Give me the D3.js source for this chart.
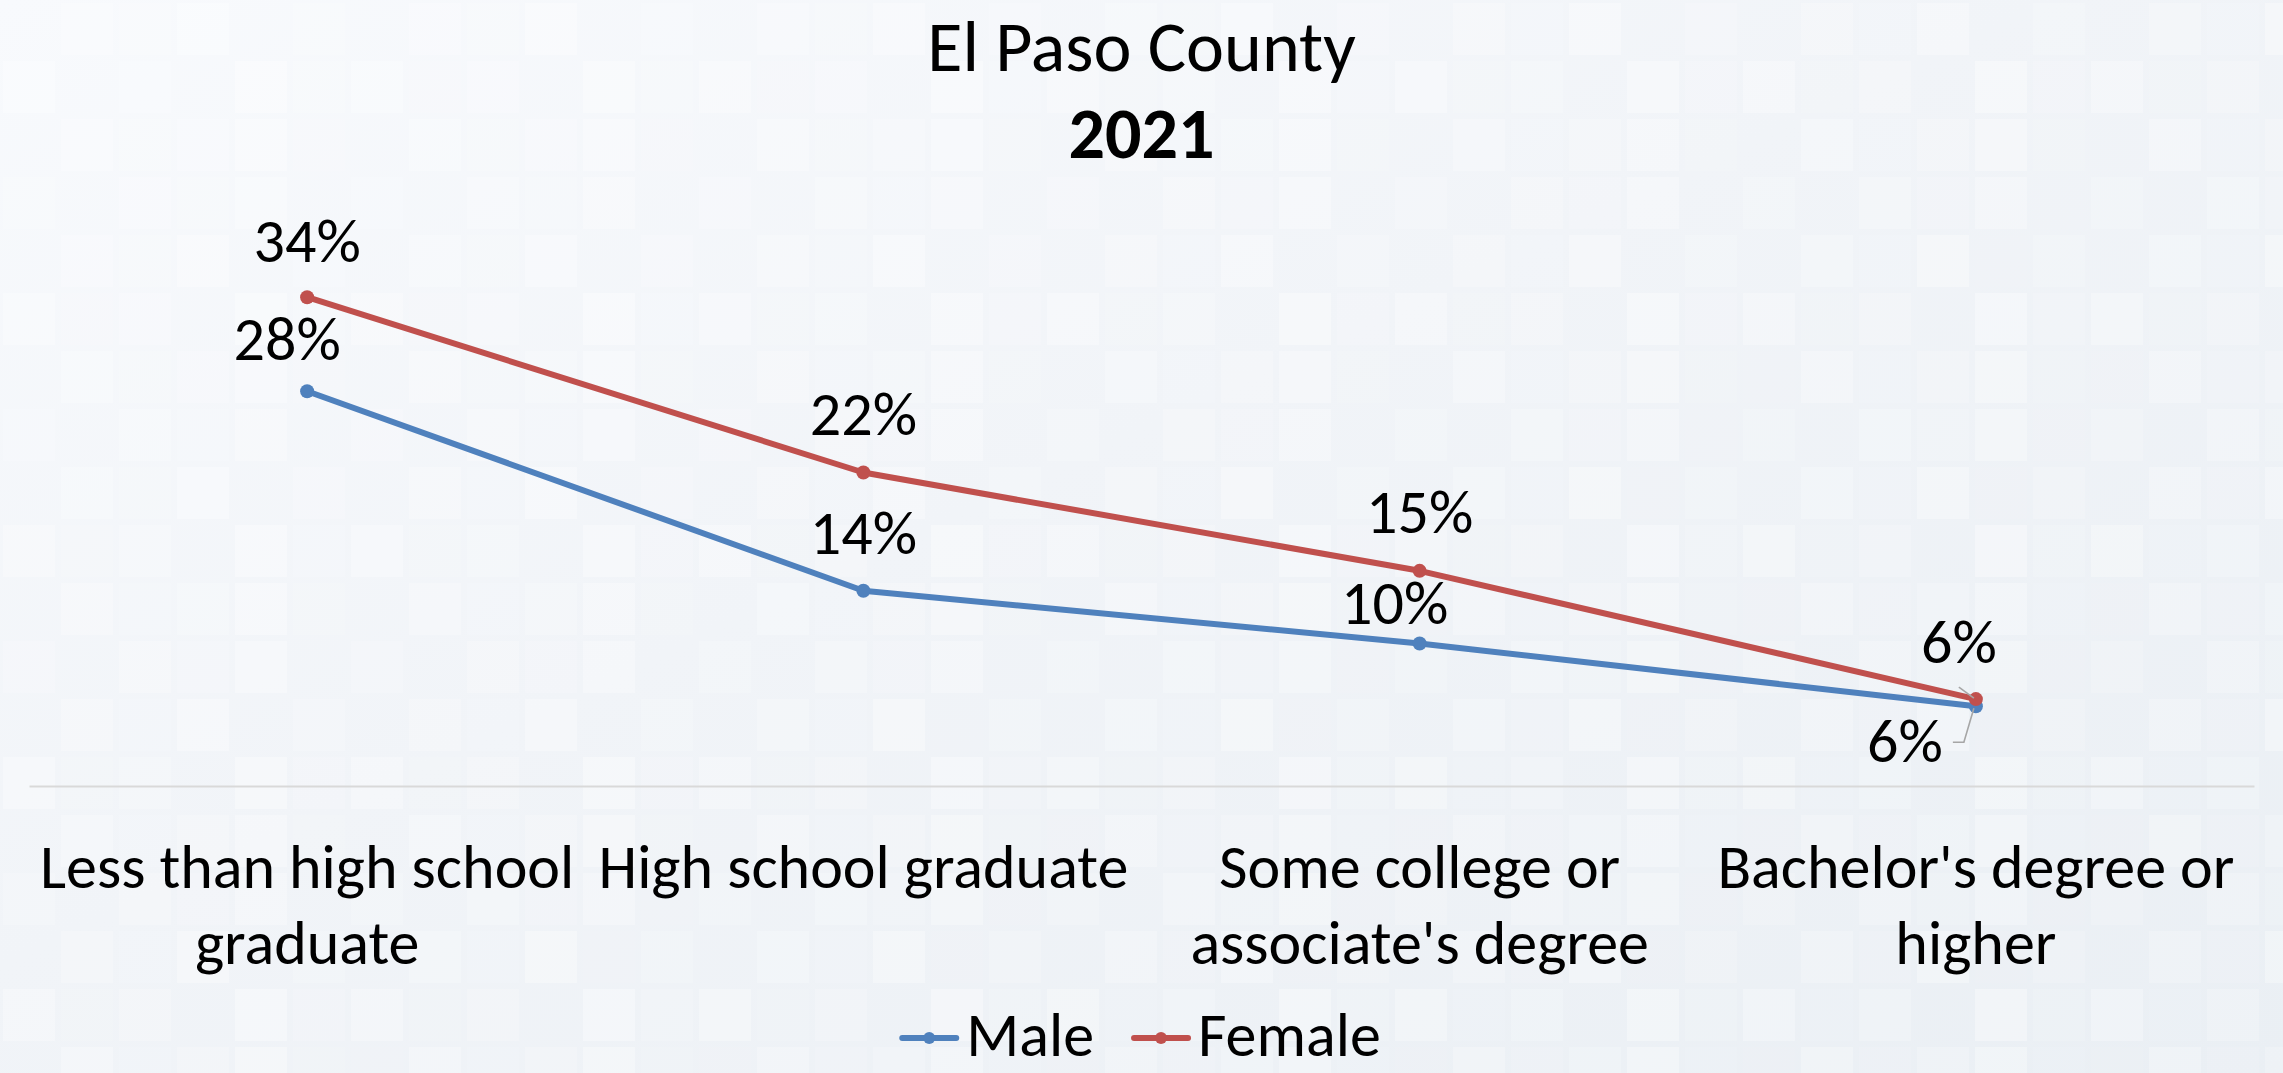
<!DOCTYPE html>
<html><head><meta charset="utf-8">
<script src="https://cdn.jsdelivr.net/npm/d3@7"></script>
<style>html,body{margin:0;padding:0;overflow:hidden;background:#f1f4f8}</style>
</head><body>
<script>
// ---- data ----
const categories = ["Less than high school graduate", "High school graduate", "Some college or associate's degree", "Bachelor's degree or higher"];
const tickLabels = [["Less than high school", "graduate"], ["High school graduate"], ["Some college or", "associate's degree"], ["Bachelor's degree or", "higher"]];
const seriesNames = ["Male", "Female"];
const maleValues = [27.7, 13.7, 10.0, 5.6];
const femaleValues = [34.3, 22.0, 15.1, 6.1];
const titleText = "El Paso County";
const subtitleText = "2021";

// ---- layout (not data) ----
const W = 2283, H = 1073;
const margin = {left: 29, right: 29, top: 216, bottom: 287};
const seriesColors = ["#4F81BD", "#C0504D"];
const maleLabelOffsets = [[-20, -31], [0, -37], [-25, -20], [-71, 56]];
const femaleLabelOffsets = [[0, -35], [0, -38], [0, -38], [-17, -36]];
const FONT = "Carlito, Calibri, Lato, sans-serif";
const fs = 62, titleFs = 72;

const svg = d3.select("body").append("svg").attr("width", W).attr("height", H);

// background
const defs = svg.append("defs");
const grad = defs.append("linearGradient").attr("id", "bg").attr("x1", 0).attr("y1", 0).attr("x2", 1).attr("y2", 1);
grad.append("stop").attr("offset", "0%").attr("stop-color", "#f8fafd");
grad.append("stop").attr("offset", "45%").attr("stop-color", "#f1f4f8");
grad.append("stop").attr("offset", "100%").attr("stop-color", "#eaeff4");
svg.append("rect").attr("width", W).attr("height", H).attr("fill", "url(#bg)");
const tileOps = [0.0, 0.35, 0.15, 0.5, 0.05, 0.25, 0.45, 0.1, 0.3, 0.0, 0.55, 0.2, 0.05, 0.4, 0.15, 0.3, 0.5, 0.1, 0.25, 0.0, 0.35, 0.2, 0.45, 0.05];
const pat = defs.append("pattern").attr("id", "tiles").attr("patternUnits", "userSpaceOnUse")
  .attr("width", 58 * 6).attr("height", 58 * 4);
tileOps.forEach((o, i) => {
  pat.append("rect").attr("x", (i % 6) * 58 + 3).attr("y", Math.floor(i / 6) * 58 + 3)
    .attr("width", 52).attr("height", 52).attr("fill", "#ffffff").attr("fill-opacity", o * 0.6);
});
svg.append("rect").attr("width", W).attr("height", H).attr("fill", "url(#tiles)");

// scales
const x = d3.scaleBand().domain(categories).range([margin.left, W - margin.right]).padding(0);
const y = d3.scaleLinear().domain([0, 40]).range([H - margin.bottom, margin.top]);
const cx = d => x(d) + x.bandwidth() / 2;
const midX = (margin.left + W - margin.right) / 2;

// title
svg.append("text").attr("x", midX).attr("y", 71)
  .attr("text-anchor", "middle").attr("font-family", FONT).attr("font-size", titleFs).attr("fill", "#000")
  .text(titleText);
svg.append("text").attr("x", midX).attr("y", 158)
  .attr("text-anchor", "middle").attr("font-family", FONT).attr("font-size", titleFs).attr("font-weight", "bold").attr("fill", "#000")
  .text(subtitleText);

// axis
const xAxis = svg.append("g").attr("transform", `translate(0,${y(0)})`)
  .call(d3.axisBottom(x).tickSize(0).tickFormat(""));
xAxis.select(".domain").attr("stroke", "#d9d9d9").attr("stroke-width", 2);
xAxis.selectAll(".tick").each(function(d, i) {
  const t = d3.select(this).append("text").attr("fill", "#000").attr("font-family", FONT).attr("font-size", fs)
    .attr("text-anchor", "middle").attr("y", 102);
  tickLabels[i].forEach((line, j) => {
    t.append("tspan").attr("x", 0).attr("dy", j === 0 ? 0 : 76).text(line);
  });
});

// series
const series = [
  {name: seriesNames[0], values: maleValues, color: seriesColors[0], offsets: maleLabelOffsets},
  {name: seriesNames[1], values: femaleValues, color: seriesColors[1], offsets: femaleLabelOffsets}
];
const line = d3.line().x((v, i) => cx(categories[i])).y(v => y(v));
const fmt = v => d3.format(".0f")(v) + "%";

series.forEach(s => {
  svg.append("path").datum(s.values).attr("d", line).attr("fill", "none")
    .attr("stroke", s.color).attr("stroke-width", 6).attr("stroke-linejoin", "round").attr("stroke-linecap", "round");
  svg.selectAll(null).data(s.values).enter().append("circle")
    .attr("cx", (v, i) => cx(categories[i])).attr("cy", v => y(v)).attr("r", 7).attr("fill", s.color);
});

// leader lines for the overlapping last labels
const lastI = categories.length - 1;
const px = cx(categories[lastI]);
const fy = y(femaleValues[lastI]), my = y(maleValues[lastI]);
const leader = d3.line();
svg.append("path").attr("d", leader([[px - 17, fy - 12], [px - 2, fy - 1]]))
  .attr("stroke", "#a6a6a6").attr("stroke-width", 1.6).attr("fill", "none");
svg.append("path").attr("d", leader([[px - 23, my + 36], [px - 12, my + 36], [px - 2, my + 2]]))
  .attr("stroke", "#a6a6a6").attr("stroke-width", 1.6).attr("fill", "none");

// data labels
series.forEach(s => {
  svg.selectAll(null).data(s.values).enter().append("text")
    .attr("x", (v, i) => cx(categories[i]) + s.offsets[i][0])
    .attr("y", (v, i) => y(v) + s.offsets[i][1])
    .attr("text-anchor", "middle").attr("font-family", FONT).attr("font-size", fs).attr("fill", "#000")
    .text(fmt);
});

// legend
const lg = svg.append("g");
let lx = 0;
series.forEach((s, i) => {
  const g = lg.append("g").attr("transform", `translate(${lx},0)`);
  g.append("line").attr("x1", 0).attr("x2", 54).attr("y1", 0).attr("y2", 0)
    .attr("stroke", s.color).attr("stroke-width", 6).attr("stroke-linecap", "round");
  g.append("circle").attr("cx", 27).attr("cy", 0).attr("r", 6).attr("fill", s.color);
  const t = g.append("text").attr("x", 64).attr("y", 18).attr("font-family", FONT).attr("font-size", fs).attr("fill", "#000").text(s.name);
  const w = 64 + t.node().getComputedTextLength();
  lx += w + 40;
});
const totalW = lx - 40;
lg.attr("transform", `translate(${midX - totalW / 2},1038)`);
</script>
</body></html>
